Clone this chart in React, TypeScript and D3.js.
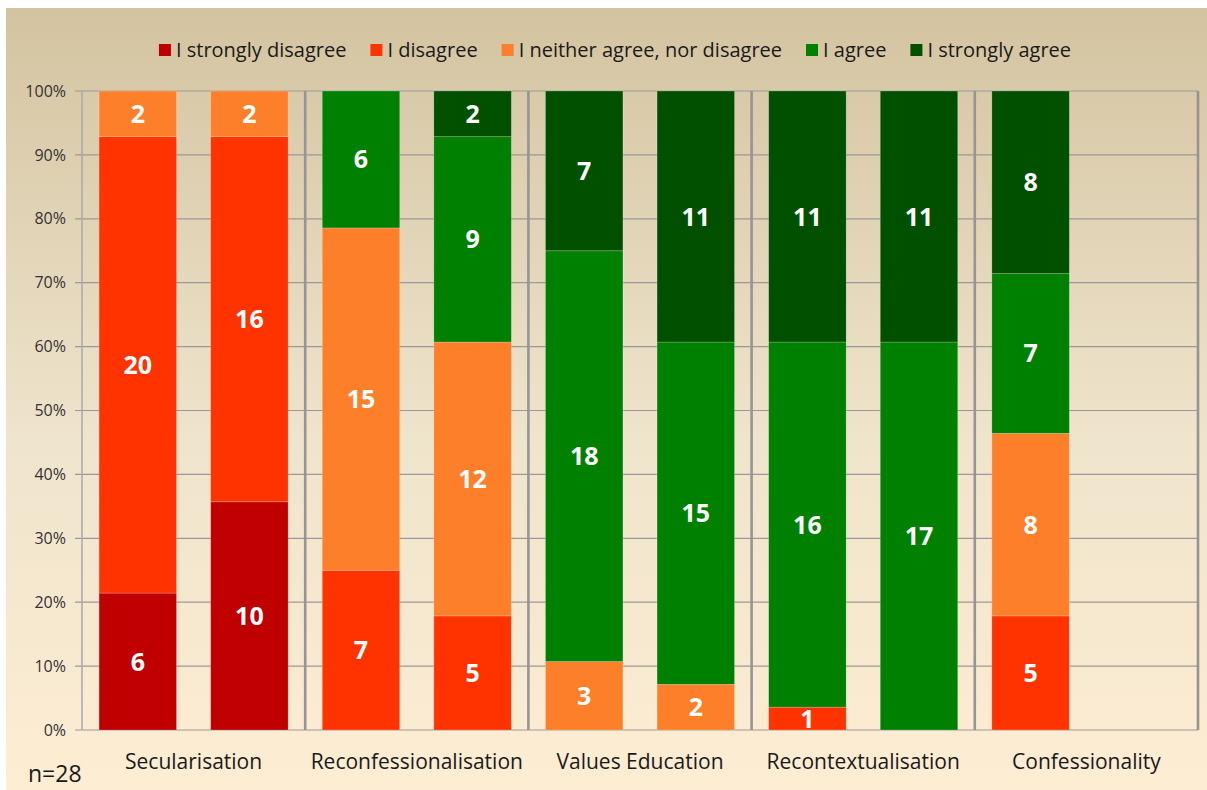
import React, { useEffect, useRef } from "react";
import * as d3 from "d3";

// survey answers per bar (n = 28), two bars per topic
const categories = [
  "Secularisation",
  "Reconfessionalisation",
  "Values Education",
  "Recontextualisation",
  "Confessionality",
];
const barKeys = ["sec1", "sec2", "rcf1", "rcf2", "val1", "val2", "rct1", "rct2", "con1", "con2"];
const seriesNames = [
  "I strongly disagree",
  "I disagree",
  "I neither agree, nor disagree",
  "I agree",
  "I strongly agree",
];
const stronglyDisagree = [6, 10, 0, 0, 0, 0, 0, 0, 0, 0];
const disagree = [20, 16, 7, 5, 0, 0, 1, 0, 5, 0];
const neither = [2, 2, 15, 12, 3, 2, 0, 0, 8, 0];
const agree = [0, 0, 6, 9, 18, 15, 16, 17, 7, 0];
const stronglyAgree = [0, 0, 0, 2, 7, 11, 11, 11, 8, 0];
const yTicks = [0, 0.1, 0.2, 0.3, 0.4, 0.5, 0.6, 0.7, 0.8, 0.9, 1];
const n = 28;

const colors = ["#c00000", "#ff3300", "#fd7f2a", "#008000", "#005000"];
const FONT = "'Open Sans', 'Noto Sans', sans-serif";

export default function App() {
  const ref = useRef<HTMLDivElement>(null);

  useEffect(() => {
    drawChart();
  }, []);

  function drawChart() {
    d3.select(ref.current).select("svg").remove();

    const width = 1207;
    const height = 790;
    const plot = { left: 82, right: 1198, top: 91, bottom: 730 };

    const svg = d3
      .select(ref.current)
      .append("svg")
      .attr("width", width)
      .attr("height", height)
      .style("position", "absolute")
      .style("left", "0px")
      .style("top", "0px")
      .style("font-family", FONT);

    const grad = svg
      .append("defs")
      .append("linearGradient")
      .attr("id", "bg")
      .attr("x1", 0)
      .attr("y1", 0)
      .attr("x2", 0)
      .attr("y2", 1);
    grad.append("stop").attr("offset", "0%").attr("stop-color", "#d3c3a0");
    grad.append("stop").attr("offset", "55%").attr("stop-color", "#efe4cc");
    grad.append("stop").attr("offset", "100%").attr("stop-color", "#fdedd3");

    svg
      .append("rect")
      .attr("x", 6)
      .attr("y", 8)
      .attr("width", width - 6)
      .attr("height", height - 8)
      .attr("fill", "url(#bg)");

    const table = barKeys.map((k, i) => ({
      key: k,
      s0: stronglyDisagree[i],
      s1: disagree[i],
      s2: neither[i],
      s3: agree[i],
      s4: stronglyAgree[i],
    }));
    const keys = ["s0", "s1", "s2", "s3", "s4"];
    const stacked = d3.stack().keys(keys)(table as any);

    const x = d3
      .scaleBand()
      .domain(barKeys)
      .range([plot.left, plot.right])
      .paddingInner(0.306)
      .paddingOuter(0.153);
    const y = d3.scaleLinear().domain([0, 1]).range([plot.bottom, plot.top]);

    // grid lines + ticks
    svg
      .append("g")
      .selectAll("line")
      .data(yTicks)
      .join("line")
      .attr("x1", plot.left - 7)
      .attr("x2", plot.right)
      .attr("y1", (d) => y(d))
      .attr("y2", (d) => y(d))
      .attr("stroke", "#999")
      .attr("stroke-width", 1.2);

    svg
      .append("g")
      .selectAll("text")
      .data(yTicks)
      .join("text")
      .attr("x", plot.left - 16)
      .attr("y", (d) => y(d))
      .attr("dy", "0.35em")
      .attr("text-anchor", "end")
      .attr("font-size", 16)
      .attr("fill", "#333")
      .text((d) => d3.format(".0%")(d));

    // axis line
    svg
      .append("line")
      .attr("x1", plot.left)
      .attr("x2", plot.left)
      .attr("y1", plot.top)
      .attr("y2", plot.bottom)
      .attr("stroke", "#a8a8a8")
      .attr("stroke-width", 1.5);

    // bars
    const layers = svg
      .append("g")
      .selectAll("g")
      .data(stacked)
      .join("g")
      .attr("fill", (_, i) => colors[i]);

    layers
      .selectAll("rect")
      .data((d) => d.filter((p) => p[1] - p[0] > 0))
      .join("rect")
      .attr("x", (d: any) => x(d.data.key)!)
      .attr("width", x.bandwidth())
      .attr("y", (d) => y(d[1] / n))
      .attr("height", (d) => y(d[0] / n) - y(d[1] / n))
      .attr("stroke", "rgba(255,255,255,0.25)")
      .attr("stroke-width", 0.8);

    layers
      .selectAll("text")
      .data((d) => d.filter((p) => p[1] - p[0] > 0))
      .join("text")
      .attr("x", (d: any) => x(d.data.key)! + x.bandwidth() / 2)
      .attr("y", (d) => y((d[0] + d[1]) / 2 / n))
      .attr("dy", "0.36em")
      .attr("text-anchor", "middle")
      .attr("font-size", 25)
      .attr("font-weight", 700)
      .attr("fill", "#fff")
      .text((d) => d[1] - d[0]);

    // group separators
    const step = x.step();
    const seps = categories.map((_, i) => plot.left + step * 2 * (i + 1));
    svg
      .append("g")
      .selectAll("line")
      .data(seps)
      .join("line")
      .attr("x1", (d) => d)
      .attr("x2", (d) => d)
      .attr("y1", plot.top)
      .attr("y2", plot.bottom)
      .attr("stroke", "#959595")
      .attr("stroke-width", 2.6);

    // category labels
    svg
      .append("g")
      .selectAll("text")
      .data(categories)
      .join("text")
      .attr("x", (_, i) => plot.left + step * (2 * i + 1))
      .attr("y", 769)
      .attr("text-anchor", "middle")
      .attr("font-size", 21)
      .attr("fill", "#1a1a1a")
      .text((d) => d);

    svg
      .append("text")
      .attr("x", 28)
      .attr("y", 782)
      .attr("font-size", 23)
      .attr("fill", "#1a1a1a")
      .text("n=" + n);

    // legend
    const legend = svg.append("g");
    const items = legend
      .selectAll("g")
      .data(seriesNames)
      .join("g");
    items
      .append("rect")
      .attr("y", 44)
      .attr("width", 12)
      .attr("height", 12)
      .attr("fill", (_, i) => colors[i]);
    items
      .append("text")
      .attr("x", 17)
      .attr("y", 50)
      .attr("dy", "0.35em")
      .attr("font-size", 20)
      .attr("fill", "#1a1a1a")
      .text((d) => d);

    const gap = 24;
    let cx = 0;
    const offsets: number[] = [];
    items.each(function () {
      offsets.push(cx);
      const w = (d3.select(this).select("text").node() as SVGTextElement).getComputedTextLength();
      cx += 17 + w + gap;
    });
    const total = cx - gap;
    const start = 615 - total / 2;
    items.attr("transform", (_, i) => `translate(${start + offsets[i]},0)`);
  }

  return <div ref={ref}></div>;
}
